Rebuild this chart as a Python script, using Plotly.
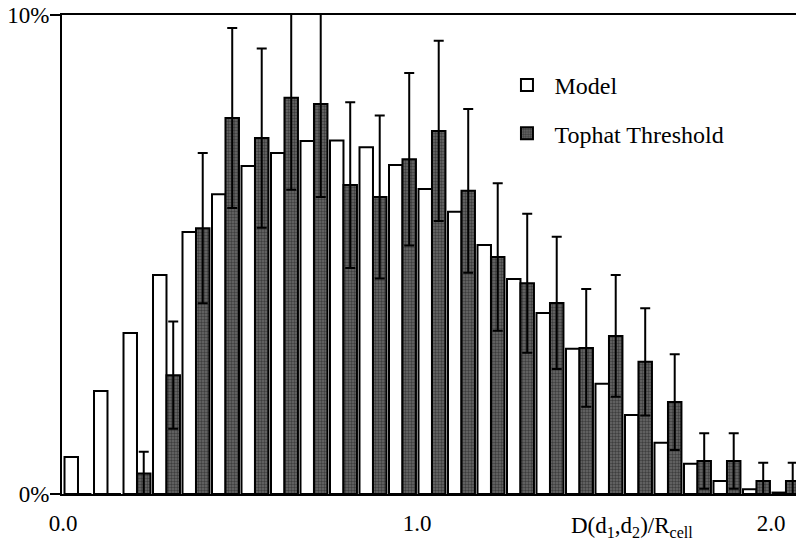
import plotly.graph_objects as go

# bin centres (bins of width 1/12)
n_bins = 25
bin_width = 1.0 / 12
bin_centers = [(i + 0.5) * bin_width for i in range(n_bins)]

model = [0.77, 2.15, 3.36, 4.57, 5.47, 6.26, 6.85, 7.12, 7.37, 7.38, 7.24, 6.87, 6.37,
         5.89, 5.20, 4.49, 3.78, 3.03, 2.30, 1.65, 1.07, 0.63, 0.27, 0.10, 0.03]
tophat = [0.0, 0.0, 0.43, 2.48, 5.55, 7.85, 7.43, 8.27, 8.14, 6.45, 6.20, 6.99, 7.58,
          6.33, 4.95, 4.40, 3.99, 3.05, 3.30, 2.76, 1.92, 0.69, 0.69, 0.27, 0.27]
tophat_err = [0.0, 0.0, 0.45, 1.12, 1.57, 1.88, 1.87, 1.92, 1.94, 1.73, 1.70, 1.80, 1.88,
              1.71, 1.54, 1.45, 1.38, 1.23, 1.27, 1.12, 1.00, 0.58, 0.58, 0.38, 0.38]

x_tickvals = [0.0, 1.0, 2.0]
x_ticktext = ["0.0", "1.0", "2.0"]
y_tickvals = [0, 10]
y_ticktext = ["0%", "10%"]

FONT = "Liberation Serif, Times New Roman, serif"

fig = go.Figure()
fig.add_trace(go.Bar(
    x=bin_centers, y=model, name="Model",
    marker=dict(color="white", line=dict(color="black", width=2)),
    legendgroup="a",
))
fig.add_trace(go.Bar(
    x=bin_centers, y=tophat, name="Tophat Threshold",
    marker=dict(color="#505050", line=dict(color="black", width=2),
                pattern=dict(shape=".", fgcolor="#111111", bgcolor="#6a6a6a", size=3, solidity=0.5)),
    error_y=dict(type="data", array=tophat_err, visible=True, color="black", thickness=2, width=5),
    legendgroup="b",
))

fig.update_layout(
    width=796, height=552,
    margin=dict(l=62, r=0, t=15, b=58),
    paper_bgcolor="white", plot_bgcolor="white",
    barmode="group", bargap=0.086, bargroupgap=0,
    font=dict(family=FONT, size=24, color="black"),
    showlegend=True,
    legend=dict(x=0.596, y=0.9, xanchor="left", yanchor="top",
                bgcolor="rgba(0,0,0,0)", font=dict(size=24),
                traceorder="grouped", tracegroupgap=14, itemwidth=45),
    xaxis=dict(range=[-0.0035, 2.070], showline=True, linewidth=2, linecolor="black",
               mirror=True, ticks="", showgrid=False, zeroline=False, automargin=False,
               tickvals=x_tickvals, ticktext=x_ticktext, ticklabelstandoff=7,
               tickfont=dict(size=23)),
    yaxis=dict(range=[0, 10], showline=True, linewidth=2, linecolor="black",
               ticks="outside", ticklen=10, tickwidth=2, tickcolor="black",
               showgrid=False, zeroline=False, automargin=False,
               tickvals=y_tickvals, ticktext=y_ticktext, ticklabelstandoff=-4,
               tickfont=dict(size=23)),
    annotations=[dict(text="D(d<sub>1</sub>,d<sub>2</sub>)/R<sub>cell</sub>",
                      xref="paper", yref="paper", x=0.7766, y=-0.069,
                      xanchor="center", yanchor="middle", showarrow=False,
                      font=dict(size=23, color="black"))],
)

# remove the default page margin so the 796x552 figure fills the window exactly
fig.write_html("out.html", config={"displayModeBar": False},
               post_script="document.body.style.margin='0';")
